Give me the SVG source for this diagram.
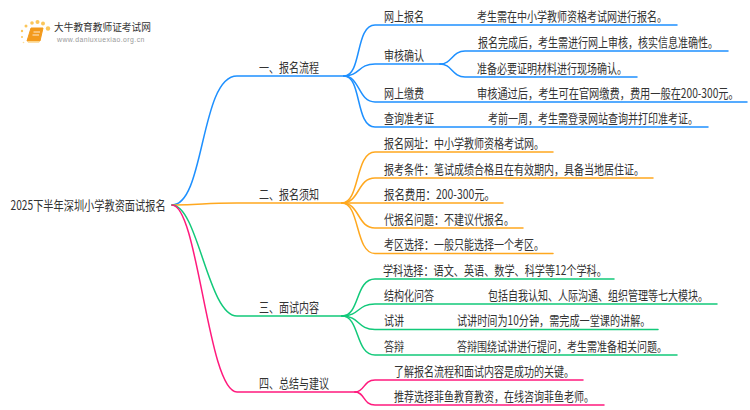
<svg xmlns="http://www.w3.org/2000/svg" width="750" height="410" viewBox="0 0 750 410">
<style>
text{font-family:"Noto Sans CJK SC","Liberation Sans",sans-serif;fill:#333;font-size:13px}
.c{fill:none;stroke-width:1.5;stroke-linecap:round}
.b{stroke:#1e90ff}.o{stroke:#ffa81f}.g{stroke:#12c97a}.p{stroke:#ff1a7d}
.d{fill:#fbc65a}
</style>
<rect width="750" height="410" fill="#fff"/>
<g id="connectors">
<path class="c b" d="M172 205C205 205 200 76 237 76H344"/>
<path class="c o" d="M172 205C205 205 200 203 237 203H342"/>
<path class="c g" d="M172 205C198 205 208 316 237 316H342"/>
<path class="c p" d="M172 205C198 205 208 392 237 392H355"/>
<path class="c b" d="M344 76C362 76 355 25 375 25H677"/>
<path class="c b" d="M344 76C360 76 358 64 375 64H440"/>
<path class="c b" d="M344 76C360 76 358 102 375 102H747"/>
<path class="c b" d="M344 76C362 76 355 127 375 127H708"/>
<path class="c b" d="M440 64C452 64 452 51 465 51H728"/>
<path class="c b" d="M440 64C452 64 452 77 465 77H637"/>
<path class="c o" d="M342 203C360 203 355 152 375 152H553"/>
<path class="c o" d="M342 203C360 203 357 178 375 178H653"/>
<path class="c o" d="M342 203H503"/>
<path class="c o" d="M342 203C360 203 357 228 375 228H523"/>
<path class="c o" d="M342 203C360 203 355 253.500 375 253.500H553"/>
<path class="c g" d="M342 316C360 316 355 279 375 279H614"/>
<path class="c g" d="M342 316C360 316 357 304 375 304H717"/>
<path class="c g" d="M342 316C360 316 357 329.500 375 329.500H658"/>
<path class="c g" d="M342 316C360 316 355 355 375 355H677"/>
<path class="c p" d="M355 392C365 392 363 380 375 380H583"/>
<path class="c p" d="M355 392C365 392 363 405 375 405H604"/>
</g>
<g id="logo">
<circle class="d" cx="48" cy="28.500" r="2.200"/><circle class="d" cx="43" cy="23.500" r="2"/><circle class="d" cx="37.500" cy="22" r="2"/><circle class="d" cx="32" cy="23" r="1.800"/><circle class="d" cx="26" cy="26" r="1.500"/><circle class="d" cx="22" cy="31" r="1.200"/><circle class="d" cx="22" cy="37" r="1"/><circle class="d" cx="23.500" cy="42.500" r="0.800" opacity=".6"/>
<path d="M31 28H43L40 41H27Z" fill="#f39a1c" stroke="#f39a1c" stroke-linejoin="round"/><path d="M27.500 41H40L39 42.800H28Z" fill="#fbd58c"/>
<path d="M33.500 32H40M32.500 35H39" stroke="#fff" stroke-width="0.800"/>
<text transform="translate(54 31) scale(.97 1)" style="font-size:10px">大牛教育教师证考试网</text>
<text transform="translate(57 41.500) scale(1.060 1)" style="font-size:6.500px;fill:#999;font-family:'Liberation Sans',sans-serif;letter-spacing:.4px">www.daniuxuexiao.org.cn</text>
</g>
<g id="root"><text transform="translate(10.500 210) scale(.785 1)">2025下半年深圳小学教资面试报名</text></g>
<g id="n1"><text transform="translate(259 71.500) scale(.77 1)">一、报名流程</text></g>
<g id="n2"><text transform="translate(259 198.500) scale(.77 1)">二、报名须知</text></g>
<g id="n3"><text transform="translate(259 311.500) scale(.77 1)">三、面试内容</text></g>
<g id="n4"><text transform="translate(259 387.500) scale(.77 1)">四、总结与建议</text></g>
<g id="n1-1"><text transform="translate(384 20.500) scale(.77 1)">网上报名</text><text transform="translate(477 20.500) scale(.77 1)">考生需在中小学教师资格考试网进行报名。</text></g>
<g id="n1-2"><text transform="translate(384 59.500) scale(.77 1)">审核确认</text><text transform="translate(478 46.500) scale(.77 1)">报名完成后，考生需进行网上审核，核实信息准确性。</text><text transform="translate(477 72.500) scale(.77 1)">准备必要证明材料进行现场确认。</text></g>
<g id="n1-3"><text transform="translate(384 97.500) scale(.77 1)">网上缴费</text><text transform="translate(477 97.500) scale(.785 1)">审核通过后，考生可在官网缴费，费用一般在200-300元。</text></g>
<g id="n1-4"><text transform="translate(384 122.500) scale(.77 1)">查询准考证</text><text transform="translate(488 122.500) scale(.77 1)">考前一周，考生需登录网站查询并打印准考证。</text></g>
<g id="n2-1"><text transform="translate(384 148) scale(.77 1)">报名网址：中小学教师资格考试网。</text></g>
<g id="n2-2"><text transform="translate(384 173.500) scale(.77 1)">报考条件：笔试成绩合格且在有效期内，具备当地居住证。</text></g>
<g id="n2-3"><text transform="translate(384 198.500) scale(.8 1)">报名费用：200-300元。</text></g>
<g id="n2-4"><text transform="translate(384 224) scale(.77 1)">代报名问题：不建议代报名。</text></g>
<g id="n2-5"><text transform="translate(384 249) scale(.77 1)">考区选择：一般只能选择一个考区。</text></g>
<g id="n3-1"><text transform="translate(383 274.500) scale(.78 1)">学科选择：语文、英语、数学、科学等12个学科。</text></g>
<g id="n3-2"><text transform="translate(384 300) scale(.77 1)">结构化问答</text><text transform="translate(488 300) scale(.77 1)">包括自我认知、人际沟通、组织管理等七大模块。</text></g>
<g id="n3-3"><text transform="translate(384 325) scale(.77 1)">试讲</text><text transform="translate(457 325) scale(.78 1)">试讲时间为10分钟，需完成一堂课的讲解。</text></g>
<g id="n3-4"><text transform="translate(384 350.500) scale(.77 1)">答辩</text><text transform="translate(457 350.500) scale(.77 1)">答辩围绕试讲进行提问，考生需准备相关问题。</text></g>
<g id="n4-1"><text transform="translate(394 376) scale(.77 1)">了解报名流程和面试内容是成功的关键。</text></g>
<g id="n4-2"><text transform="translate(394 401) scale(.77 1)">推荐选择菲鱼教育教资，在线咨询菲鱼老师。</text></g>
</svg>
